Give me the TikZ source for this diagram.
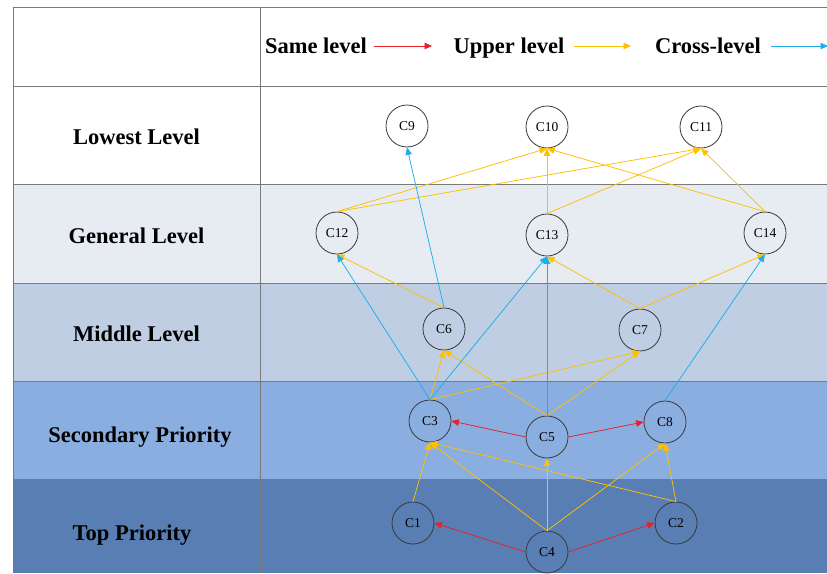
\documentclass[tikz,border=0pt]{standalone}
\usepackage{fontspec}
\setmainfont{Liberation Serif}
\usetikzlibrary{arrows.meta}
\definecolor{rowgen}{HTML}{E7ECF3}
\definecolor{rowmid}{HTML}{BFCEE2}
\definecolor{rowsec}{HTML}{8AAEE0}
\definecolor{rowtop}{HTML}{587EB3}
\definecolor{gridc}{HTML}{7A7A7A}
\definecolor{samec}{HTML}{E8202A}
\definecolor{upc}{HTML}{FFC000}
\definecolor{crossc}{HTML}{1FAEE8}
\definecolor{circc}{HTML}{3A3A3A}
\tikzset{
  cnode/.style={circle,draw=circc,line width=0.8pt,minimum size=42pt,inner sep=0pt,font=\fontsize{13.5}{15}\selectfont},
  rowlabel/.style={font=\fontsize{22.5}{26}\selectfont\bfseries,inner sep=0pt,anchor=base},
  legtext/.style={font=\fontsize{22.5}{26}\selectfont\bfseries,inner sep=0pt,anchor=base},
  tip/.style={-{Triangle[length=7.5pt,width=6.5pt]}},
  samearr/.style={tip,draw=samec,fill=samec,line width=0.7pt},
  uparr/.style={tip,draw=upc,fill=upc,line width=0.7pt},
  crossarr/.style={tip,draw=crossc,fill=crossc,line width=0.7pt},
  gridline/.style={draw=gridc,line width=1pt}
}
\begin{document}
\begin{tikzpicture}[x=1pt,y=-1pt]
\useasboundingbox (0,0) rectangle (827,573);
\fill[white] (0,0) rectangle (827,573);
% rows
\fill[rowgen] (13,184) rectangle (827,283);
\fill[rowmid] (13,283) rectangle (827,381);
\fill[rowsec] (13,381) rectangle (827,479);
\fill[rowtop] (13,479) rectangle (827,573);
\draw[gridline] (13,573) -- (13,7) -- (827,7);
\draw[gridline] (260,7) -- (260,573);
\foreach \yy in {86,184,283,381,479} \draw[gridline] (13,\yy) -- (827,\yy);
% row labels
\node[rowlabel] (lLowest) at (136.5,144.5) {Lowest Level};
\node[rowlabel] (lGeneral) at (136.5,243.5) {General Level};
\node[rowlabel] (lMiddle) at (136.5,341.5) {Middle Level};
\node[rowlabel] (lSecond) at (140,442) {Secondary Priority};
\node[rowlabel] (lTop) at (132,540.5) {Top Priority};
% legend
\node[legtext] (legSame) at (316,53.5) {Same level};
\node[legtext] (legUp) at (509,53.5) {Upper level};
\node[legtext] (legCross) at (708,53.5) {Cross-level};
\coordinate (rs) at (374,46); \coordinate (re) at (432,46);
\coordinate (ys) at (574,46); \coordinate (ye) at (631,46);
\coordinate (bs) at (771,46); \coordinate (be) at (828,46);
\draw[samearr] (rs) -- (re);
\draw[uparr] (ys) -- (ye);
\draw[crossarr] (bs) -- (be);
% nodes
\node[cnode] (C9) at (407,126) {C9};
\node[cnode] (C10) at (547,127) {C10};
\node[cnode] (C11) at (701,127) {C11};
\node[cnode] (C12) at (337,233) {C12};
\node[cnode] (C13) at (547,235) {C13};
\node[cnode] (C14) at (765,233) {C14};
\node[cnode] (C6) at (444,329) {C6};
\node[cnode] (C7) at (640,330) {C7};
\node[cnode] (C3) at (430,421) {C3};
\node[cnode] (C5) at (547,437) {C5};
\node[cnode] (C8) at (665,422) {C8};
\node[cnode] (C1) at (413,523) {C1};
\node[cnode] (C4) at (547,552) {C4};
\node[cnode] (C2) at (676,523) {C2};
% same level
\draw[samearr] (C5.west) -- (C3.east);
\draw[samearr] (C5.east) -- (C8.west);
\draw[samearr] (C4.west) -- (C1.east);
\draw[samearr] (C4.east) -- (C2.west);
% upper level
\draw[uparr] (C1.north) -- (C3.south);
\draw[uparr] (C4.north) -- (C3.south);
\draw[uparr] (C2.north) -- (C3.south);
\draw[uparr] (C4.north) -- (C5.south);
\draw[uparr] (C4.north) -- (C8.south);
\draw[uparr] (C2.north) -- (C8.south);
\draw[uparr] (C3.north) -- (C6.south);
\draw[uparr] (C5.north) -- (C6.south);
\draw[uparr] (C3.north) -- (C7.south);
\draw[uparr] (C5.north) -- (C7.south);
\draw[uparr] (C6.north) -- (C12.south);
\draw[uparr] (C7.north) -- (C13.south);
\draw[uparr] (C7.north) -- (C14.south);
\draw[uparr] (C12.north) -- (C10.south);
\draw[uparr] (C12.north) -- (C11.south);
\draw[uparr] (C13.north) -- (C10.south);
\draw[uparr] (C13.north) -- (C11.south);
\draw[uparr] (C14.north) -- (C10.south);
\draw[uparr] (C14.north) -- (C11.south);
% cross level
\draw[crossarr] (C6.north) -- (C9.south);
\draw[crossarr] (C3.north) -- (C12.south);
\draw[crossarr] (C3.north) -- (C13.south);
\draw[crossarr] (C5.north) -- (C13.south);
\draw[crossarr] (C8.north) -- (C14.south);
\end{tikzpicture}
\end{document}
